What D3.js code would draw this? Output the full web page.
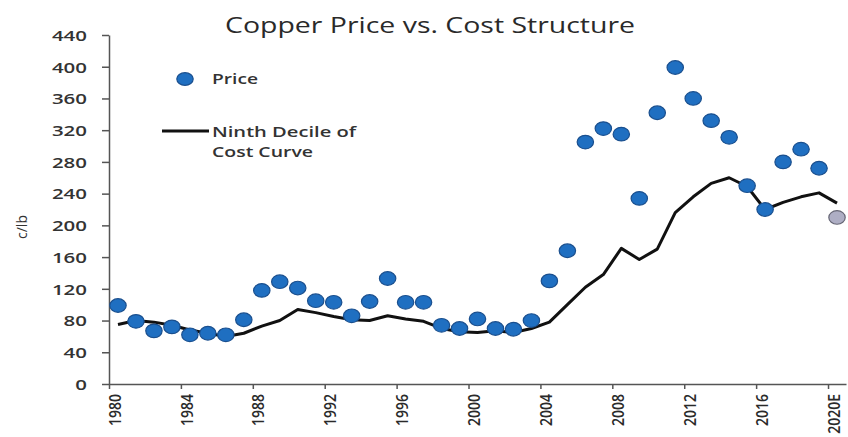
<!DOCTYPE html>
<html><head><meta charset="utf-8">
<script src="https://cdn.jsdelivr.net/npm/d3@7"></script>
<style>
body{margin:0;background:#fff;}
svg{display:block;font-family:"Open Sans",sans-serif;}
</style>
</head><body>
<svg id="chart" width="848" height="437"></svg>
<script>
const years = [1980,1981,1982,1983,1984,1985,1986,1987,1988,1989,1990,1991,1992,1993,1994,1995,1996,1997,1998,1999,2000,2001,2002,2003,2004,2005,2006,2007,2008,2009,2010,2011,2012,2013,2014,2015,2016,2017,2018,2019,2020];
const price = [99,79,67,72,62,64,62,81,118,129,121,105,103,86,104,133,103,103,74,70,82,70,69,80,130,168,305,322,315,234,342,399,360,332,311,250,220,280,296,272,210];
const costCurve = [75,80,78,74,68,64,60,64,73,80,94,90,85,81,80,86,82,79,70,66,65,67,65,70,78,100,122,138,171,157,170,216,236,253,260,249,220,229,236,241,228];
const estimateYears = [2020];
const xTicks = [1980,1984,1988,1992,1996,2000,2004,2008,2012,2016,2020];
const xTickLabels = ["1980","1984","1988","1992","1996","2000","2004","2008","2012","2016","2020E"];
const yTicks = [0,40,80,120,160,200,240,280,320,360,400,440];

const svg = d3.select("#chart");
const x = d3.scaleLinear().domain([1980, 2021]).range([109, 846]);
const y = d3.scaleLinear().domain([0, 440]).range([384, 35]);

// Title
svg.append("text").attr("x", 430).attr("y", 33).attr("text-anchor", "middle")
  .attr("font-size", 22).attr("fill", "#2a2a2a")
  .attr("textLength", 410).attr("lengthAdjust", "spacingAndGlyphs")
  .text("Copper Price vs. Cost Structure");

// Y axis
const yAxis = svg.append("g").attr("transform", "translate(109,0)")
  .call(d3.axisLeft(y).tickValues(yTicks).tickSize(7).tickSizeOuter(0));
yAxis.select(".domain").attr("stroke", "#555").attr("stroke-width", 1.5);
yAxis.selectAll(".tick line").attr("stroke", "#555").attr("stroke-width", 1.5);
yAxis.selectAll(".tick text").attr("font-size", 14).attr("font-weight", 600).attr("fill", "#333")
  .attr("font-family", "'Open Sans',sans-serif")
  .attr("x", -22).attr("dy", "0.38em")
  .attr("textLength", d => String(d).length * 11.7).attr("lengthAdjust", "spacingAndGlyphs");

// X axis
const xAxis = svg.append("g").attr("transform", "translate(0,384)")
  .call(d3.axisBottom(x).tickValues(xTicks).tickSize(5).tickSizeOuter(0)
    .tickFormat((d, i) => xTickLabels[i]));
xAxis.select(".domain").attr("stroke", "#555").attr("stroke-width", 1.5);
xAxis.selectAll(".tick line").attr("stroke", "#555").attr("stroke-width", 1.5);
xAxis.selectAll(".tick text").attr("font-size", 14).attr("font-weight", 600).attr("fill", "#2a2a2a")
  .attr("font-family", "'Open Sans',sans-serif")
  .attr("text-anchor", "end").attr("x", -10).attr("y", 0).attr("dy", "0.72em")
  .attr("transform", "scale(1.1,1) rotate(-90)");

// Y axis title
svg.append("text").attr("transform", "translate(27,227) rotate(-90)")
  .attr("text-anchor", "middle").attr("font-size", 14).attr("fill", "#333")
  .text("c/lb");

// Cost curve line
const line = d3.line().x((d, i) => x(years[i] + 0.5)).y(d => y(d));
svg.append("path").datum(costCurve).attr("d", line)
  .attr("fill", "none").attr("stroke", "#111").attr("stroke-width", 3)
  .attr("stroke-linejoin", "round");

// Price dots
svg.append("g").selectAll("ellipse").data(price).join("ellipse")
  .attr("cx", (d, i) => x(years[i] + 0.5)).attr("cy", d => y(d))
  .attr("rx", 8.2).attr("ry", 6.8)
  .attr("fill", (d, i) => estimateYears.includes(years[i]) ? "#aeaec4" : "#1f6fc1")
  .attr("stroke", (d, i) => estimateYears.includes(years[i]) ? "#666675" : "#1a4f8e")
  .attr("stroke-width", 1.2);

// Legend
svg.append("ellipse").attr("cx", 185).attr("cy", 79).attr("rx", 8.2).attr("ry", 6.3)
  .attr("fill", "#1f6fc1").attr("stroke", "#1a4f8e").attr("stroke-width", 1.2);
svg.append("text").attr("x", 212).attr("y", 84).attr("font-size", 15).attr("font-weight", 600)
  .attr("fill", "#333").attr("textLength", 46).attr("lengthAdjust", "spacingAndGlyphs").text("Price");
svg.append("line").attr("x1", 162).attr("x2", 209).attr("y1", 131).attr("y2", 131)
  .attr("stroke", "#111").attr("stroke-width", 3);
svg.append("text").attr("x", 212).attr("y", 137).attr("font-size", 15).attr("font-weight", 600)
  .attr("fill", "#333").attr("textLength", 144).attr("lengthAdjust", "spacingAndGlyphs").text("Ninth Decile of");
svg.append("text").attr("x", 212).attr("y", 157).attr("font-size", 15).attr("font-weight", 600)
  .attr("fill", "#333").attr("textLength", 101).attr("lengthAdjust", "spacingAndGlyphs").text("Cost Curve");
</script>
</body></html>
